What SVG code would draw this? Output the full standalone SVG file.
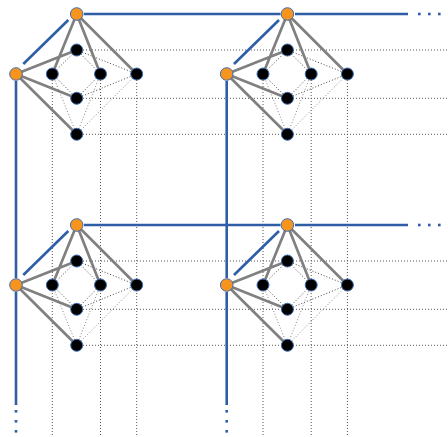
<svg xmlns="http://www.w3.org/2000/svg" width="448" height="437" viewBox="0 0 448 437">
<style>
.grid{stroke:#555;stroke-width:1;stroke-dasharray:1 2;fill:none}
.dk{stroke:#444;stroke-width:1;stroke-dasharray:1 2;fill:none}
.lt{stroke:#888;stroke-width:1;stroke-dasharray:1 2;fill:none}
.thick{stroke:#808080;stroke-width:2.7;fill:none;stroke-linecap:round}
.blue{stroke:#2f5ea6;stroke-width:2.6;fill:none}
.dot{fill:#2f5ea6}
.on{fill:#f7941d;stroke:#3f6db3;stroke-width:1}
.bn{fill:#000;stroke:#3f6db3;stroke-width:1}
</style>
<g id="connectors">
<g id="grid">
<line class="grid" x1="83" y1="50" x2="448" y2="50"/>
<line class="grid" x1="83" y1="98.3" x2="448" y2="98.3"/>
<line class="grid" x1="83" y1="134.3" x2="448" y2="134.3"/>
<line class="grid" x1="83" y1="261" x2="448" y2="261"/>
<line class="grid" x1="83" y1="309.3" x2="448" y2="309.3"/>
<line class="grid" x1="83" y1="345.3" x2="448" y2="345.3"/>
<line class="grid" x1="52.3" y1="80" x2="52.3" y2="437"/>
<line class="grid" x1="100.5" y1="80" x2="100.5" y2="437"/>
<line class="grid" x1="136.7" y1="80" x2="136.7" y2="437"/>
<line class="grid" x1="263" y1="80" x2="263" y2="437"/>
<line class="grid" x1="311.2" y1="80" x2="311.2" y2="437"/>
<line class="grid" x1="347.4" y1="80" x2="347.4" y2="437"/>
</g>
<g id="dotted-edges">
<path class="dk" d="M76.7,50L52.3,74M76.7,50L100.5,74M76.7,50L136.7,74M76.7,98.3L52.3,74M76.7,98.3L100.5,74M76.7,98.3L136.7,74"/>
<path class="lt" d="M76.7,134.3L52.3,74M76.7,134.3L100.5,74M76.7,134.3L136.7,74"/>
<path class="dk" d="M287.4,50L263,74M287.4,50L311.2,74M287.4,50L347.4,74M287.4,98.3L263,74M287.4,98.3L311.2,74M287.4,98.3L347.4,74"/>
<path class="lt" d="M287.4,134.3L263,74M287.4,134.3L311.2,74M287.4,134.3L347.4,74"/>
<path class="dk" d="M76.7,261L52.3,285M76.7,261L100.5,285M76.7,261L136.7,285M76.7,309.3L52.3,285M76.7,309.3L100.5,285M76.7,309.3L136.7,285"/>
<path class="lt" d="M76.7,345.3L52.3,285M76.7,345.3L100.5,285M76.7,345.3L136.7,285"/>
<path class="dk" d="M287.4,261L263,285M287.4,261L311.2,285M287.4,261L347.4,285M287.4,309.3L263,285M287.4,309.3L311.2,285M287.4,309.3L347.4,285"/>
<path class="lt" d="M287.4,345.3L263,285M287.4,345.3L311.2,285M287.4,345.3L347.4,285"/>
</g>
<g id="gray-edges">
<path class="thick" d="M76.7,14L52.3,74M76.7,14L100.5,74M76.7,14L136.7,74M16,74L76.7,50M16,74L76.7,98.3M16,74L76.7,134.3"/>
<path class="thick" d="M287.4,14L263,74M287.4,14L311.2,74M287.4,14L347.4,74M226.7,74L287.4,50M226.7,74L287.4,98.3M226.7,74L287.4,134.3"/>
<path class="thick" d="M76.7,225L52.3,285M76.7,225L100.5,285M76.7,225L136.7,285M16,285L76.7,261M16,285L76.7,309.3M16,285L76.7,345.3"/>
<path class="thick" d="M287.4,225L263,285M287.4,225L311.2,285M287.4,225L347.4,285M226.7,285L287.4,261M226.7,285L287.4,309.3M226.7,285L287.4,345.3"/>
</g>
<g id="blue-lines">
<line class="blue" x1="84" y1="14" x2="280.5" y2="14"/>
<line class="blue" x1="295" y1="14" x2="408" y2="14"/>
<line class="blue" x1="84" y1="225" x2="280.5" y2="225"/>
<line class="blue" x1="295" y1="225" x2="408" y2="225"/>
<line class="blue" x1="16" y1="81" x2="16" y2="278"/>
<line class="blue" x1="16" y1="292" x2="16" y2="405"/>
<line class="blue" x1="226.7" y1="81" x2="226.7" y2="278"/>
<line class="blue" x1="226.7" y1="292" x2="226.7" y2="405"/>
<line class="blue" x1="23.3" y1="64" x2="68.3" y2="20"/>
<line class="blue" x1="234" y1="64" x2="279" y2="20"/>
<line class="blue" x1="23.3" y1="275" x2="68.3" y2="231"/>
<line class="blue" x1="234" y1="275" x2="279" y2="231"/>
<rect class="dot" x="418" y="12.7" width="2.6" height="2.6"/>
<rect class="dot" x="428" y="12.7" width="2.6" height="2.6"/>
<rect class="dot" x="438" y="12.7" width="2.6" height="2.6"/>
<rect class="dot" x="418" y="223.7" width="2.6" height="2.6"/>
<rect class="dot" x="428" y="223.7" width="2.6" height="2.6"/>
<rect class="dot" x="438" y="223.7" width="2.6" height="2.6"/>
<rect class="dot" x="14.7" y="410" width="2.6" height="2.6"/>
<rect class="dot" x="14.7" y="420" width="2.6" height="2.6"/>
<rect class="dot" x="14.7" y="430" width="2.6" height="2.6"/>
<rect class="dot" x="225.4" y="410" width="2.6" height="2.6"/>
<rect class="dot" x="225.4" y="420" width="2.6" height="2.6"/>
<rect class="dot" x="225.4" y="430" width="2.6" height="2.6"/>
</g>
</g>
<g id="a-o1"><circle class="on" cx="76.7" cy="14" r="6.3"/></g>
<g id="a-o2"><circle class="on" cx="16" cy="74" r="6.3"/></g>
<g id="a-t"><circle class="bn" cx="76.7" cy="50" r="6"/></g>
<g id="a-l"><circle class="bn" cx="52.3" cy="74" r="6"/></g>
<g id="a-m"><circle class="bn" cx="100.5" cy="74" r="6"/></g>
<g id="a-f"><circle class="bn" cx="136.7" cy="74" r="6"/></g>
<g id="a-w"><circle class="bn" cx="76.7" cy="98.3" r="6"/></g>
<g id="a-b"><circle class="bn" cx="76.7" cy="134.3" r="6"/></g>

<g id="b-o1"><circle class="on" cx="287.4" cy="14" r="6.3"/></g>
<g id="b-o2"><circle class="on" cx="226.7" cy="74" r="6.3"/></g>
<g id="b-t"><circle class="bn" cx="287.4" cy="50" r="6"/></g>
<g id="b-l"><circle class="bn" cx="263" cy="74" r="6"/></g>
<g id="b-m"><circle class="bn" cx="311.2" cy="74" r="6"/></g>
<g id="b-f"><circle class="bn" cx="347.4" cy="74" r="6"/></g>
<g id="b-w"><circle class="bn" cx="287.4" cy="98.3" r="6"/></g>
<g id="b-b"><circle class="bn" cx="287.4" cy="134.3" r="6"/></g>

<g id="c-o1"><circle class="on" cx="76.7" cy="225" r="6.3"/></g>
<g id="c-o2"><circle class="on" cx="16" cy="285" r="6.3"/></g>
<g id="c-t"><circle class="bn" cx="76.7" cy="261" r="6"/></g>
<g id="c-l"><circle class="bn" cx="52.3" cy="285" r="6"/></g>
<g id="c-m"><circle class="bn" cx="100.5" cy="285" r="6"/></g>
<g id="c-f"><circle class="bn" cx="136.7" cy="285" r="6"/></g>
<g id="c-w"><circle class="bn" cx="76.7" cy="309.3" r="6"/></g>
<g id="c-b"><circle class="bn" cx="76.7" cy="345.3" r="6"/></g>

<g id="d-o1"><circle class="on" cx="287.4" cy="225" r="6.3"/></g>
<g id="d-o2"><circle class="on" cx="226.7" cy="285" r="6.3"/></g>
<g id="d-t"><circle class="bn" cx="287.4" cy="261" r="6"/></g>
<g id="d-l"><circle class="bn" cx="263" cy="285" r="6"/></g>
<g id="d-m"><circle class="bn" cx="311.2" cy="285" r="6"/></g>
<g id="d-f"><circle class="bn" cx="347.4" cy="285" r="6"/></g>
<g id="d-w"><circle class="bn" cx="287.4" cy="309.3" r="6"/></g>
<g id="d-b"><circle class="bn" cx="287.4" cy="345.3" r="6"/></g>
</svg>
